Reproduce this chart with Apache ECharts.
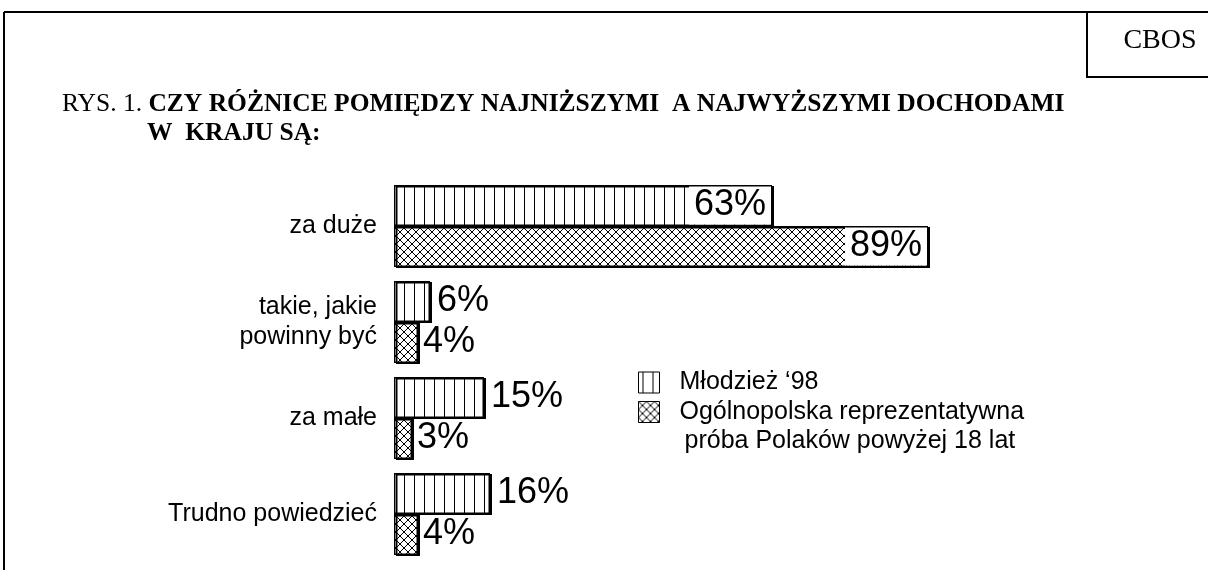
<!DOCTYPE html>
<html><head><meta charset="utf-8">
<script src="https://cdn.jsdelivr.net/npm/echarts@6/dist/echarts.min.js"></script>
<style>html,body{margin:0;padding:0;background:#fff}#c{width:1208px;height:570px}</style>
</head><body><div id="c"></div>
<script>
const categories = ['za duże', 'takie, jakie\npowinny być', 'za małe', 'Trudno powiedzieć'];
const mlodziez = [63, 6, 15, 16];
const ogolnopolska = [89, 4, 3, 4];
const seriesNames = ['Młodzież ‘98', 'Ogólnopolska reprezentatywna\npróba Polaków powyżej 18 lat'];

function stripes() {
  const c = document.createElement('canvas'); c.width = 10; c.height = 10;
  const g = c.getContext('2d');
  g.fillStyle = '#fff'; g.fillRect(0, 0, 10, 10);
  g.fillStyle = '#000'; g.fillRect(0, 0, 1, 10);
  return c;
}
function cross() {
  const s = 8;
  const c = document.createElement('canvas'); c.width = s; c.height = s;
  const g = c.getContext('2d');
  g.fillStyle = '#fff'; g.fillRect(0, 0, s, s);
  g.strokeStyle = '#000'; g.lineWidth = 1;
  g.beginPath();
  g.moveTo(0, 0); g.lineTo(s, s);
  g.moveTo(s, 0); g.lineTo(0, s);
  g.stroke();
  return c;
}
const pStripes = {image: stripes(), repeat: 'repeat', x: 4};
const pCross = {image: cross(), repeat: 'repeat'};

const SANS = 'Liberation Sans, Arial, sans-serif';
const SERIF = 'Liberation Serif, Times New Roman, serif';

function mkData(arr) {
  return arr.map(v => v > 50 ? {
    value: v,
    label: {position: 'insideRight', distance: 1, backgroundColor: '#fff', padding: [0, 5, 0, 5], lineHeight: 38}
  } : v);
}

const itemStyleBase = {borderColor: '#000', borderWidth: 1.5, shadowColor: '#000', shadowOffsetX: 2, shadowOffsetY: 1, shadowBlur: 0};

const chart = echarts.init(document.getElementById('c'), null, {renderer: 'canvas'});
chart.setOption({
  animation: false,
  backgroundColor: '#fff',
  title: {
    left: 62, top: 90, padding: 0,
    text: '{r|RYS. 1. }{b|CZY RÓŻNICE POMIĘDZY NAJNIŻSZYMI  A NAJWYŻSZYMI DOCHODAMI}\n{c|W  KRAJU SĄ:}',
    textStyle: {
      rich: {
        r: {fontFamily: SERIF, fontSize: 25.5, fontWeight: 'normal', color: '#000', lineHeight: 29},
        b: {fontFamily: SERIF, fontSize: 25.5, fontWeight: 'bold', color: '#000', lineHeight: 29},
        c: {fontFamily: SERIF, fontSize: 25.5, fontWeight: 'bold', color: '#000', lineHeight: 29, padding: [0, 0, 0, 85]}
      }
    }
  },
  legend: [{
    data: [seriesNames[0]],
    left: 633, top: 365,
    orient: 'vertical',
    itemWidth: 21, itemHeight: 21, itemGap: 10,
    selectedMode: false,
    icon: 'rect',
    itemStyle: {borderColor: '#000', borderWidth: 1, shadowOffsetX: 0, shadowOffsetY: 0},
    textStyle: {fontFamily: SANS, fontSize: 25, color: '#000', padding: [0, 0, 0, 15]}
  }, {
    data: [seriesNames[1]],
    left: 633, top: 394.5,
    orient: 'vertical',
    itemWidth: 21, itemHeight: 21,
    selectedMode: false,
    icon: 'rect',
    itemStyle: {borderColor: '#000', borderWidth: 1, shadowOffsetX: 0, shadowOffsetY: 0},
    formatter: function (n) {
      const p = n.split('\n');
      return '{a|' + p[0] + '}\n{b|' + p[1] + '}';
    },
    textStyle: {
      fontFamily: SANS, fontSize: 25, color: '#000', padding: [29, 0, 0, 15],
      rich: {
        a: {fontFamily: SANS, fontSize: 25, color: '#000', lineHeight: 29},
        b: {fontFamily: SANS, fontSize: 25, color: '#000', lineHeight: 29, padding: [0, 0, 0, 5]}
      }
    }
  }],
  grid: {left: 394, width: 600, top: 178, height: 384, containLabel: false},
  xAxis: {type: 'value', min: 0, max: 100, show: false},
  yAxis: {
    type: 'category', data: categories, inverse: true,
    axisLine: {show: false}, axisTick: {show: false}, splitLine: {show: false},
    axisLabel: {fontFamily: SANS, fontSize: 25, color: '#000', margin: 17, lineHeight: 30, align: 'right'}
  },
  series: [{
    name: seriesNames[0], type: 'bar', data: mkData(mlodziez),
    barWidth: 41, barGap: '0%',
    itemStyle: Object.assign({color: pStripes}, itemStyleBase),
    label: {show: true, position: 'right', distance: 7, formatter: '{c}%', fontFamily: SANS, fontSize: 36, color: '#000'}
  }, {
    name: seriesNames[1], type: 'bar', data: mkData(ogolnopolska),
    barWidth: 41, barGap: '0%',
    itemStyle: Object.assign({color: pCross}, itemStyleBase),
    label: {show: true, position: 'right', distance: 5, formatter: '{c}%', fontFamily: SANS, fontSize: 36, color: '#000'}
  }],
  graphic: [
    {type: 'line', shape: {x1: 4, y1: 12, x2: 1208, y2: 12}, style: {stroke: '#000', lineWidth: 2}},
    {type: 'line', shape: {x1: 4, y1: 12, x2: 4, y2: 570}, style: {stroke: '#000', lineWidth: 2}},
    {type: 'rect', shape: {x: 1087, y: 12, width: 130, height: 65}, style: {stroke: '#000', lineWidth: 2, fill: '#fff'}},
    {type: 'text', x: 1160, y: 41, style: {text: 'CBOS', font: '28px ' + SERIF, fill: '#000', align: 'center', verticalAlign: 'middle'}}
  ]
});
</script></body></html>
